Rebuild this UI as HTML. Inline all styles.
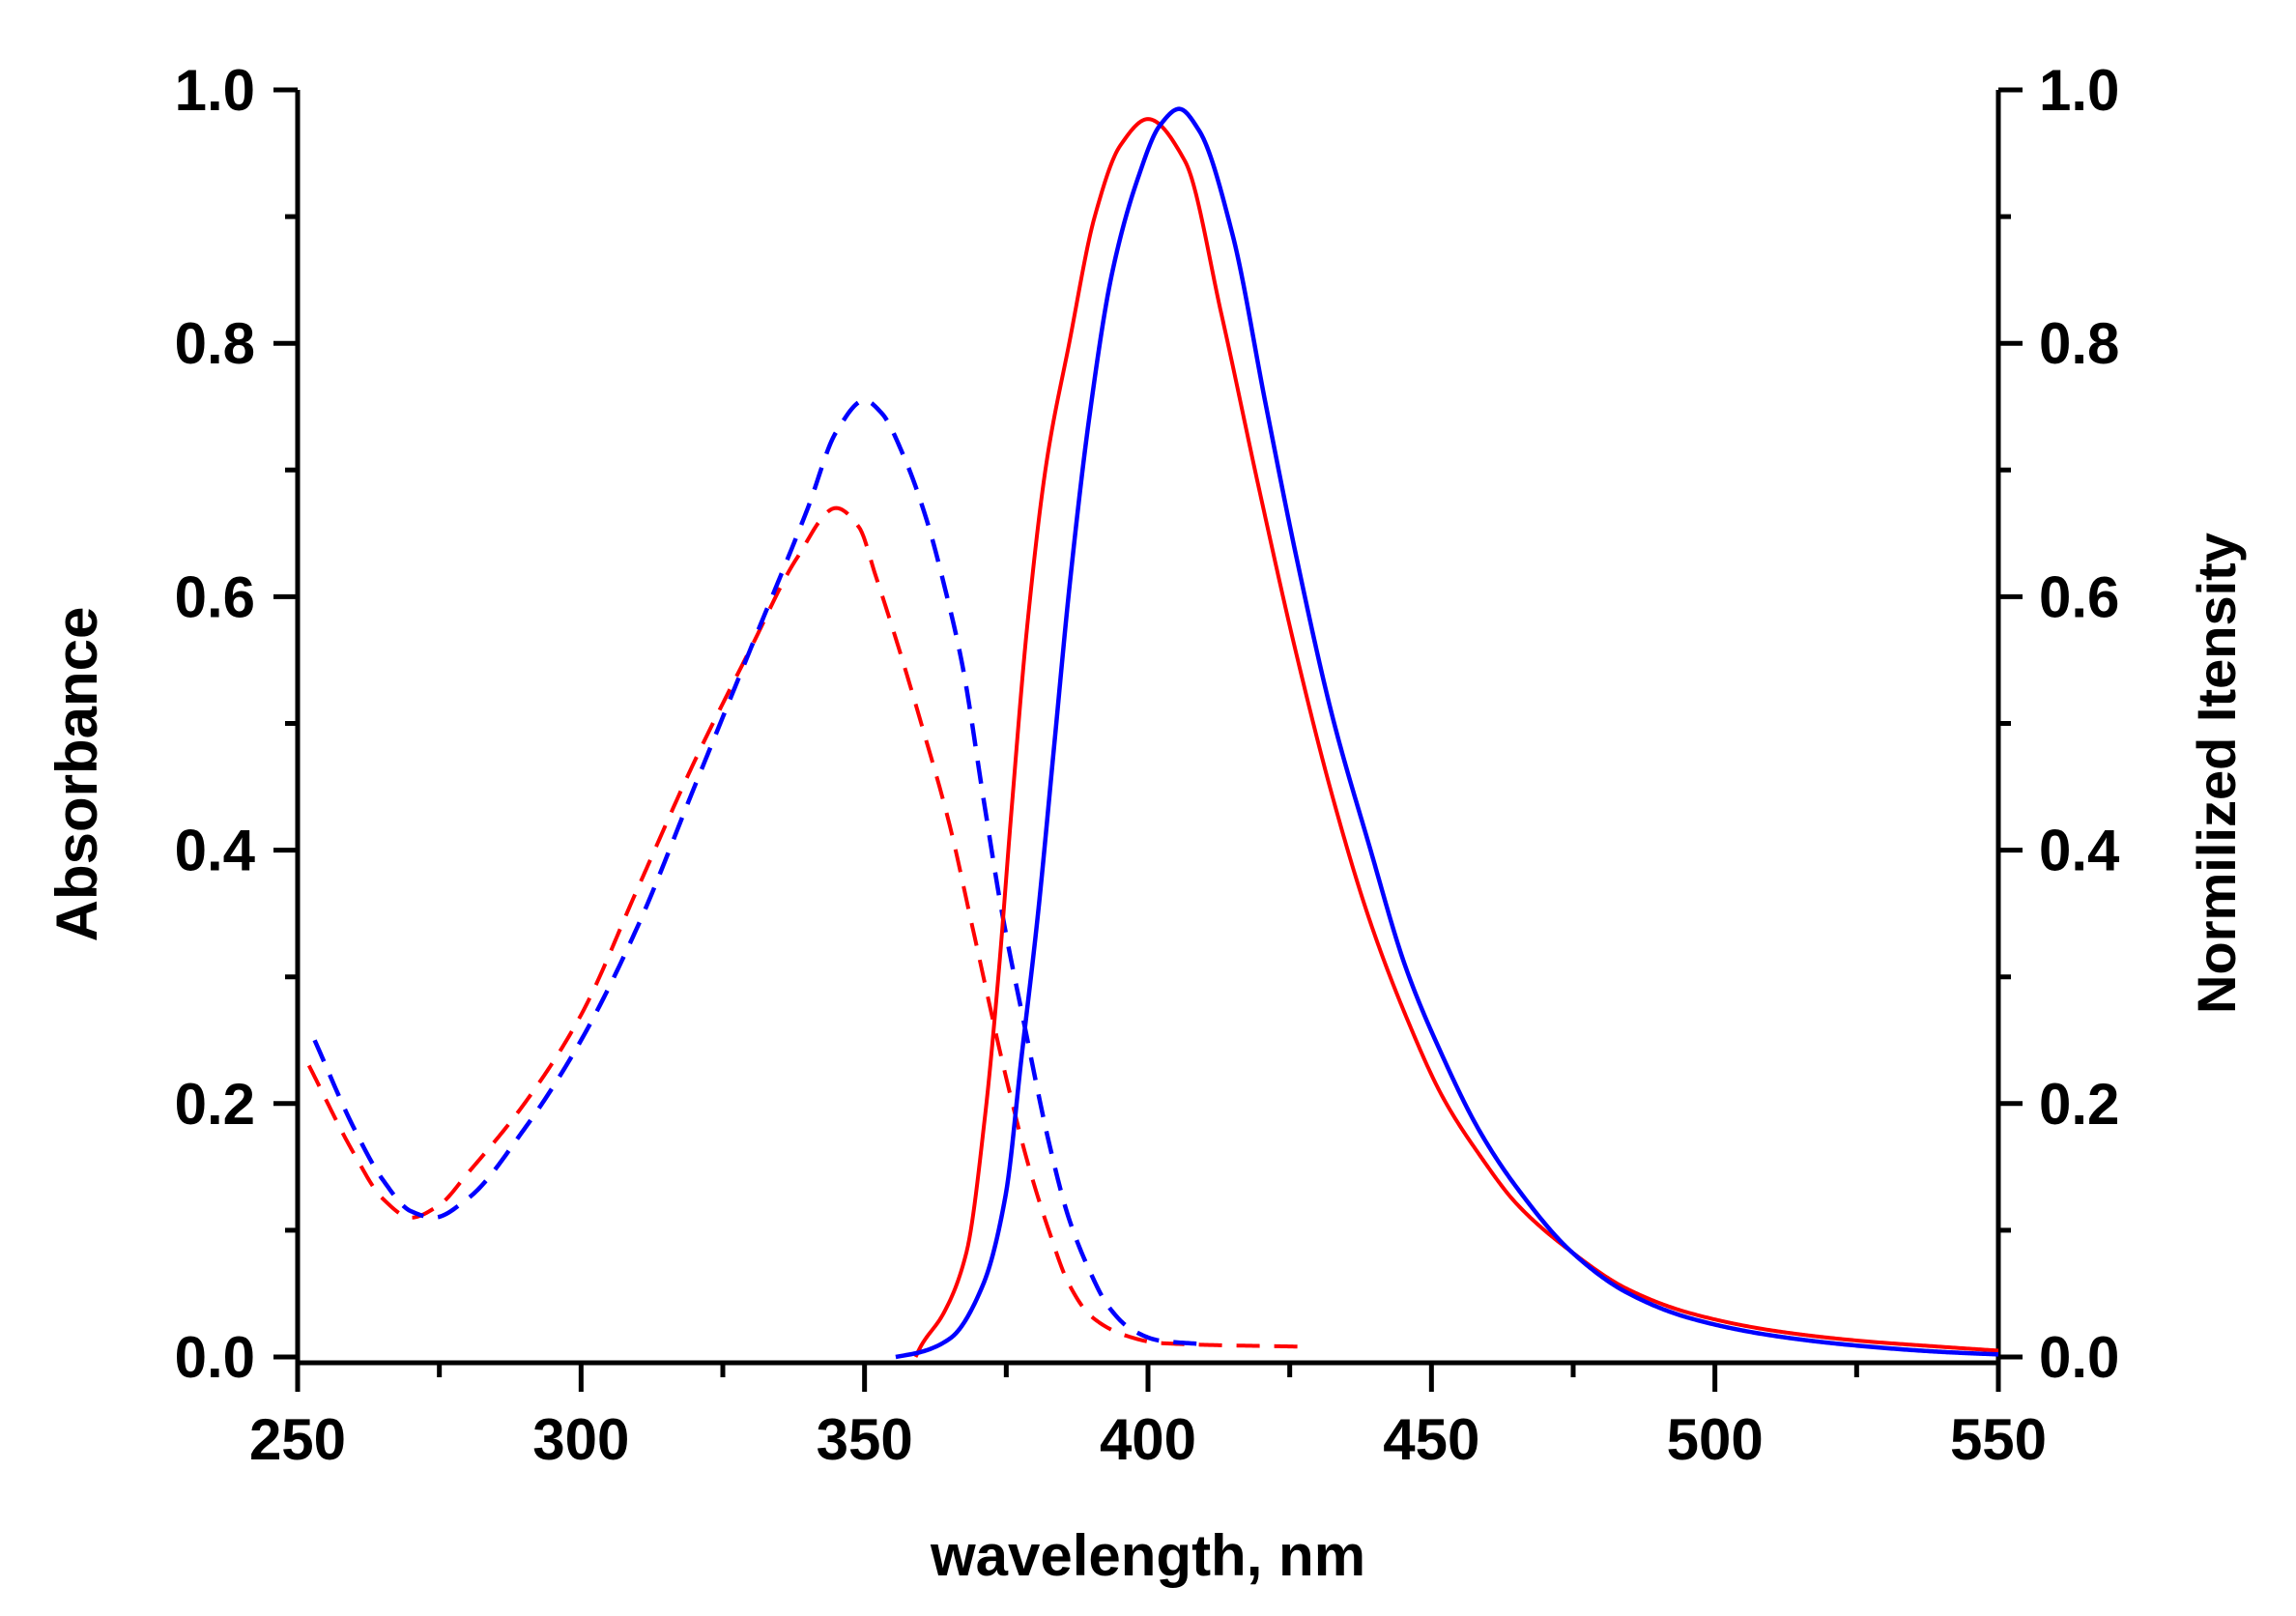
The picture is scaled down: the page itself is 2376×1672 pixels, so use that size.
<!DOCTYPE html>
<html><head><meta charset="utf-8"><style>
html,body{margin:0;padding:0;background:#fff;}
svg{display:block;}
text{font-family:"Liberation Sans",Arial,sans-serif;font-weight:bold;fill:#000;}
</style></head><body>
<svg id="s" width="2376" height="1672" viewBox="0 0 2376 1672" xmlns="http://www.w3.org/2000/svg">
<rect width="2376" height="1672" fill="#fff"/>
<g id="axes" stroke="#000" stroke-width="5" fill="none"></g>
<g id="curves" fill="none" stroke-linejoin="round"></g>
<g id="labels" font-size="60"></g>
<text x="1188" y="1630" font-size="60" text-anchor="middle">wavelength, nm</text>
<text transform="translate(100,801) rotate(-90)" font-size="60" text-anchor="middle">Absorbance</text>
<text transform="translate(2313,800) rotate(-90)" font-size="56" text-anchor="middle">Normilized Itensity</text>
</svg>
<script>
const X0=308,X1=2068,Y0=1404,Y1=93;
const fx=x=>X0+(x-250)/300*(X1-X0), fy=y=>Y0-y*(Y0-Y1);
const NS="http://www.w3.org/2000/svg";
function el(p,t,a,txt){const e=document.createElementNS(NS,t);for(const k in a)e.setAttribute(k,a[k]);if(txt!==undefined)e.textContent=txt;document.getElementById(p).appendChild(e);return e;}
let d="M"+X0+" "+Y1+" V1410 M"+X0+" 1410 H"+X1+" M"+X1+" "+Y1+" V1410";
for(let i=0;i<=10;i++){const y=fy(i/10),L=i%2==0?25:13;d+=` M${X0-L} ${y} H${X0} M${X1} ${y} H${X1+L}`;}
for(let i=0;i<=12;i++){const x=fx(250+i*25),L=i%2==0?30:15;d+=` M${x} 1410 V${1410+L}`;}
el("axes","path",{d:d});
for(let i=0;i<=5;i++){const v=(i*0.2).toFixed(1),y=fy(i*0.2)+21;
el("labels","text",{x:264,y:y,"text-anchor":"end"},v);
el("labels","text",{x:2110,y:y},v);}
for(let i=0;i<=6;i++){el("labels","text",{x:fx(250+i*50),y:1510,"text-anchor":"middle"},String(250+i*50));}
// monotone cubic (Fritsch-Carlson) sampled densely
function mono(pts){
const n=pts.length,xs=pts.map(p=>p[0]),ys=pts.map(p=>p[1]);
const dl=[],m=new Array(n);
for(let i=0;i<n-1;i++)dl.push((ys[i+1]-ys[i])/(xs[i+1]-xs[i]));
m[0]=dl[0];m[n-1]=dl[n-2];
for(let i=1;i<n-1;i++){if(dl[i-1]*dl[i]<=0)m[i]=0;else{const w1=2*(xs[i+1]-xs[i])+(xs[i]-xs[i-1]),w2=(xs[i+1]-xs[i])+2*(xs[i]-xs[i-1]);m[i]=(w1+w2)/(w1/dl[i-1]+w2/dl[i]);}}
let s="";
for(let i=0;i<n-1;i++){const h=xs[i+1]-xs[i];const N=Math.max(2,Math.ceil(h/0.25));
for(let k=(i==0?0:1);k<=N;k++){const t=k/N,t2=t*t,t3=t2*t;
const y=(2*t3-3*t2+1)*ys[i]+(t3-2*t2+t)*h*m[i]+(-2*t3+3*t2)*ys[i+1]+(t3-t2)*h*m[i+1];
const x=xs[i]+t*h;s+=(s?" L":"M")+fx(x).toFixed(2)+" "+fy(y).toFixed(2);}}
return s;}
const redAbs=[[252,.23],[260,.16],[265,.125],[270,.11],[275,.12],[280,.145],[290,.2],[300,.27],[310,.37],[320,.47],[330,.56],[338,.63],[345,.67],[349,.655],[352,.616],[356,.56],[360,.5],[365,.42],[369,.34],[375,.22],[379,.15],[382.5,.1],[386,.058],[390,.032],[396,.017],[402,.011],[428,.008]];
const blueAbs=[[253,.25],[260,.18],[265,.14],[270,.115],[274,.11],[280,.125],[290,.18],[300,.25],[310,.34],[320,.45],[330,.56],[340,.67],[345,.73],[350,.755],[353,.745],[357,.71],[361,.66],[364,.61],[367.3,.545],[371,.44],[374.2,.352],[378.2,.262],[382.7,.166],[386,.11],[389.5,.07],[393,.04],[397,.022],[402,.013],[410,.01]];
const redEm=[[359,0],[360,.009],[364,.035],[368,.083],[371.3,.192],[373.6,.3],[375.9,.43],[378.7,.577],[382.1,.706],[386.1,.8],[390.6,.9],[395.1,.956],[400,.977],[406.5,.944],[413,.822],[419.5,.687],[426,.558],[432.5,.443],[439,.346],[445.5,.269],[452,.205],[458.4,.16],[465,.121],[474.7,.083],[484.4,.054],[495.3,.035],[510,.021],[525,.013],[540,.008],[550,.005]];
const blueEm=[[355.5,0],[360,.004],[365.2,.015],[370.9,.057],[374.9,.128],[377.7,.237],[380.6,.35],[383.4,.48],[386.2,.61],[389.6,.74],[393.6,.854],[398.2,.93],[402.1,.972],[405.5,.985],[409,.968],[414.9,.886],[420.8,.751],[426,.635],[432.5,.506],[439,.404],[445.5,.307],[452,.237],[458.4,.179],[465,.134],[474.7,.083],[484.4,.051],[495.3,.031],[510,.017],[525,.009],[540,.004],[550,.002]];
el("curves","path",{d:mono(redAbs),stroke:"#ff0000","stroke-width":4,"stroke-dasharray":"24 15"});
el("curves","path",{d:mono(blueAbs),stroke:"#0000ff","stroke-width":4.5,"stroke-dasharray":"24 15"});
el("curves","path",{d:mono(redEm),stroke:"#ff0000","stroke-width":4});
el("curves","path",{d:mono(blueEm),stroke:"#0000ff","stroke-width":4.5});
</script>
</body></html>
